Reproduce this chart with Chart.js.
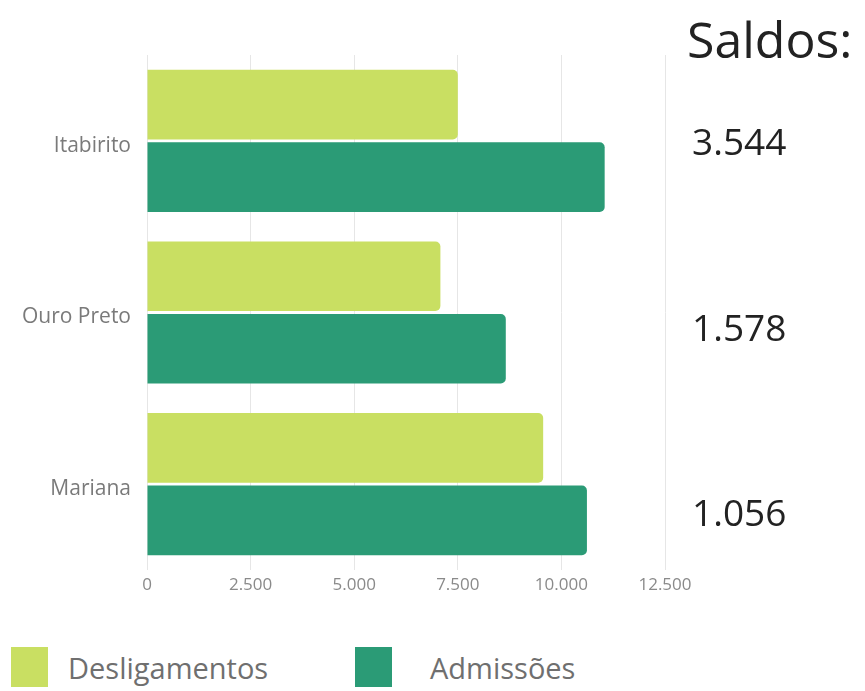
<!DOCTYPE html>
<html>
<head>
<meta charset="utf-8">
<script src="https://cdn.jsdelivr.net/npm/chart.js@4/dist/chart.umd.min.js"></script>
<style>
  body { margin: 0; background: #fff; font-family: "Open Sans", sans-serif; }
  #wrap { position: relative; width: 865px; height: 691px; }
  #box { position: absolute; left: 0; top: 0; width: 865px; height: 600px; }
  .leg { position: absolute; top: 647px; height: 40px; display: flex; align-items: center; }
  .leg span.sw { width: 37px; height: 40px; display: inline-block; }
  .leg span.tx { font-size: 29px; color: #6f6f6f; margin-left: 20px; }
</style>
</head>
<body>
<div id="wrap">
  <div id="box"><canvas id="myChart"></canvas></div>
  <div class="leg" style="left:11px"><span class="sw" style="background:#c9df62"></span><span class="tx" id="l0"></span></div>
  <div class="leg" style="left:355px"><span class="sw" style="background:#2b9b76"></span><span class="tx" id="l1" style="margin-left:38px"></span></div>
</div>
<script>
// dados
var cidades = ["Itabirito", "Ouro Preto", "Mariana"];
var desligamentos = [7500, 7080, 9560];
var admissoes = [11044, 8658, 10616];
var saldos = ["3.544", "1.578", "1.056"];
var nomes = ["Desligamentos", "Admissões"];
var cores = ["#c9df62", "#2b9b76"];

document.getElementById("l0").textContent = nomes[0];
document.getElementById("l1").textContent = nomes[1];

// texto "Saldos:" do lado direito
var saldosPlugin = {
  id: "saldos",
  afterDraw: function(chart) {
    var ctx = chart.ctx;
    ctx.save();
    ctx.fillStyle = "#222";
    ctx.textAlign = "left";
    ctx.textBaseline = "alphabetic";
    ctx.font = "50px 'Open Sans'";
    ctx.fillText("Saldos:", 687, 58);
    ctx.font = "37px 'Open Sans'";
    var ys = [155, 341, 526];
    for (var i = 0; i < saldos.length; i++) {
      ctx.fillText(saldos[i], 692, ys[i]);
    }
    ctx.restore();
  }
};

var ctx = document.getElementById("myChart").getContext("2d");
var myChart = new Chart(ctx, {
  type: "bar",
  data: {
    labels: cidades,
    datasets: [
      { label: nomes[0], data: desligamentos, backgroundColor: cores[0], borderRadius: 5, borderSkipped: "start" },
      { label: nomes[1], data: admissoes, backgroundColor: cores[1], borderRadius: 5, borderSkipped: "start" }
    ]
  },
  options: {
    indexAxis: "y",
    responsive: true,
    maintainAspectRatio: false,
    animation: false,
    categoryPercentage: 0.845,
    barPercentage: 0.96,
    layout: { padding: { left: 0, right: 200, top: 55, bottom: 0 } },
    plugins: { legend: { display: false }, tooltip: { enabled: false } },
    scales: {
      x: {
        min: 0, max: 12500,
        ticks: {
          stepSize: 2500, color: "#8a8a8a", padding: 5,
          font: { family: "Open Sans", size: 17 },
          callback: function(v) { return v.toLocaleString("pt-BR"); }
        },
        grid: { color: "#e6e6e6", drawTicks: false },
        border: { display: false },
        afterFit: function(s) { s.height = 30; }
      },
      y: {
        ticks: { color: "#7a7a7a", padding: 8, labelOffset: 5, font: { family: "Open Sans", size: 21 } },
        grid: { display: false },
        border: { display: false },
        afterFit: function(s) { s.width = 147; }
      }
    }
  },
  plugins: [saldosPlugin]
});
</script>
</body>
</html>
